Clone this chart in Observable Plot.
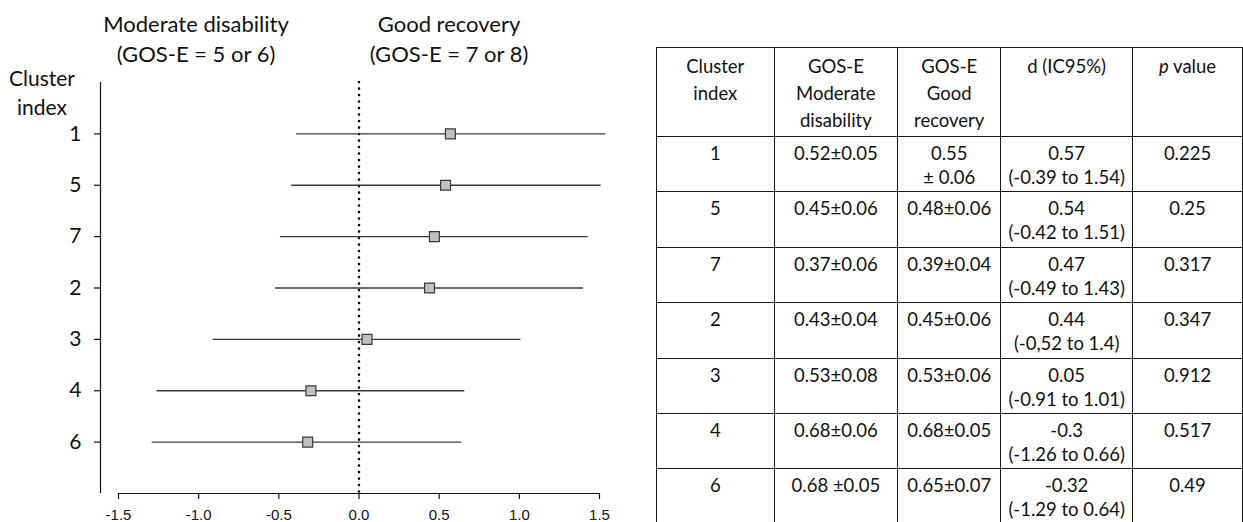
<!DOCTYPE html>
<html>
<head>
<meta charset="utf-8">
<script src="https://cdn.jsdelivr.net/npm/d3@7"></script>
<script src="https://cdn.jsdelivr.net/npm/@observablehq/plot@0.6"></script>
<style>
  html, body { margin: 0; padding: 0; background: #fff; }
  body { width: 1243px; height: 522px; overflow: hidden; position: relative; font-family: Lato, "Open Sans", sans-serif; color: #111; }
  #plot { position: absolute; left: 0; top: 0; }
  .lbl { position: absolute; font-size: 22px; line-height: 30px; text-align: center; white-space: nowrap; transform: translateX(-50%); }
  #tbl { position: absolute; left: 656px; top: 47px; border-collapse: collapse; table-layout: fixed; font-size: 18.5px; }
  #tbl td, #tbl th { border: 1.6px solid #1a1a1a; text-align: center; vertical-align: top; font-weight: normal; padding: 4px 2px 0 2px; line-height: 24px; white-space: nowrap; }
  #tbl th { line-height: 27px; padding-top: 5px; }
  #tbl tr.h { height: 89px; }
  #tbl tr.r { height: 55.4px; }
</style>
</head>
<body>
<div id="plot"></div>
<div class="lbl" style="left:196px; top:9px;">Moderate disability<br>(GOS-E = 5 or 6)</div>
<div class="lbl" style="left:449px; top:9px;">Good recovery<br>(GOS-E = 7 or 8)</div>
<div class="lbl" style="left:42px; top:63px; line-height:29px; font-size:21px;">Cluster<br>index</div>
<table id="tbl"></table>
<script>
// ---- data (forest plot) ----
const clusters = ["1", "5", "7", "2", "3", "4", "6"];
const dValues  = [0.57, 0.54, 0.47, 0.44, 0.05, -0.30, -0.32];
const ciLow    = [-0.39, -0.42, -0.49, -0.52, -0.91, -1.26, -1.29];
const ciHigh   = [1.54, 1.51, 1.43, 1.40, 1.01, 0.66, 0.64];
const xTicks   = [-1.5, -1.0, -0.5, 0.0, 0.5, 1.0, 1.5];

// ---- data (table) ----
const tableHeaders = ["Cluster<br>index", "GOS-E<br>Moderate<br>disability", "GOS-E<br>Good<br>recovery", "d (IC95%)", "<i>p</i> value"];
const moderate  = ["0.52±0.05", "0.45±0.06", "0.37±0.06", "0.43±0.04", "0.53±0.08", "0.68±0.06", "0.68 ±0.05"];
const good      = ["0.55<br>± 0.06", "0.48±0.06", "0.39±0.04", "0.45±0.06", "0.53±0.06", "0.68±0.05", "0.65±0.07"];
const dText     = ["0.57", "0.54", "0.47", "0.44", "0.05", "-0.3", "-0.32"];
const ciText    = ["(-0.39 to 1.54)", "(-0.42 to 1.51)", "(-0.49 to 1.43)", "(-0,52 to 1.4)", "(-0.91 to 1.01)", "(-1.26 to 0.66)", "(-1.29 to 0.64)"];
const pValues   = ["0.225", "0.25", "0.317", "0.347", "0.912", "0.517", "0.49"];
const colWidths = [129, 130, 106, 134, 120];

const rows = clusters.map((c, i) => ({i, c, d: dValues[i], lo: ciLow[i], hi: ciHigh[i]}));
const lineColor = "#3a3a3a";

const chart = Plot.plot({
  width: 620,
  height: 522,
  marginLeft: 100,
  marginRight: 21,
  marginTop: 82,
  marginBottom: 29,
  style: {fontFamily: "Lato, sans-serif", color: "#111", background: "transparent", overflow: "visible"},
  x: {domain: [-1.5, 1.5], range: [118, 599]},
  y: {domain: [-1, clusters.length], reverse: true},
  marks: [
    // y axis line
    Plot.ruleX([-1.5], {dx: -18, y1: -1, y2: clusters.length, stroke: "#111", strokeWidth: 1.2}),
    // x axis line
    Plot.ruleY([clusters.length], {x1: -1.5, x2: 1.5, stroke: "#111", strokeWidth: 1.2}),
    Plot.axisX({ticks: xTicks, tickFormat: d => d.toFixed(1), tickSize: 6, tickPadding: 10, fontSize: 15,
      fontFamily: "'Liberation Sans Narrow', 'Liberation Sans', sans-serif", stroke: "#111", strokeWidth: 1.2, label: null}),
    Plot.axisY({ticks: d3.range(clusters.length), tickFormat: i => clusters[i], tickSize: 6, tickPadding: 13,
      fontSize: 21, fontFamily: "Lato, sans-serif", stroke: "#111", strokeWidth: 1.2, label: null}),
    // null-effect dotted line
    Plot.ruleX([0], {y1: -1, y2: clusters.length, stroke: "#000", strokeWidth: 2.6, strokeDasharray: "0.1,6.4", strokeLinecap: "round"}),
    // confidence intervals
    Plot.ruleY(rows, {y: "i", x1: "lo", x2: "hi", stroke: lineColor, strokeWidth: 1.3}),
    // point estimates
    Plot.dot(rows, {x: "d", y: "i", symbol: "square", r: 5.6, fill: "#c0c0c0", stroke: lineColor, strokeWidth: 1.2})
  ]
});
document.getElementById("plot").appendChild(chart);

// ---- table ----
const tbl = document.getElementById("tbl");
const cg = document.createElement("colgroup");
colWidths.forEach(w => { const col = document.createElement("col"); col.style.width = w + "px"; cg.appendChild(col); });
tbl.appendChild(cg);
const hr = document.createElement("tr");
hr.className = "h";
tableHeaders.forEach(h => { const th = document.createElement("th"); th.innerHTML = h; hr.appendChild(th); });
tbl.appendChild(hr);
clusters.forEach((c, i) => {
  const tr = document.createElement("tr");
  tr.className = "r";
  [c, moderate[i], good[i], dText[i] + "<br>" + ciText[i], pValues[i]].forEach(v => {
    const td = document.createElement("td"); td.innerHTML = v; tr.appendChild(td);
  });
  tbl.appendChild(tr);
});
</script>
</body>
</html>
